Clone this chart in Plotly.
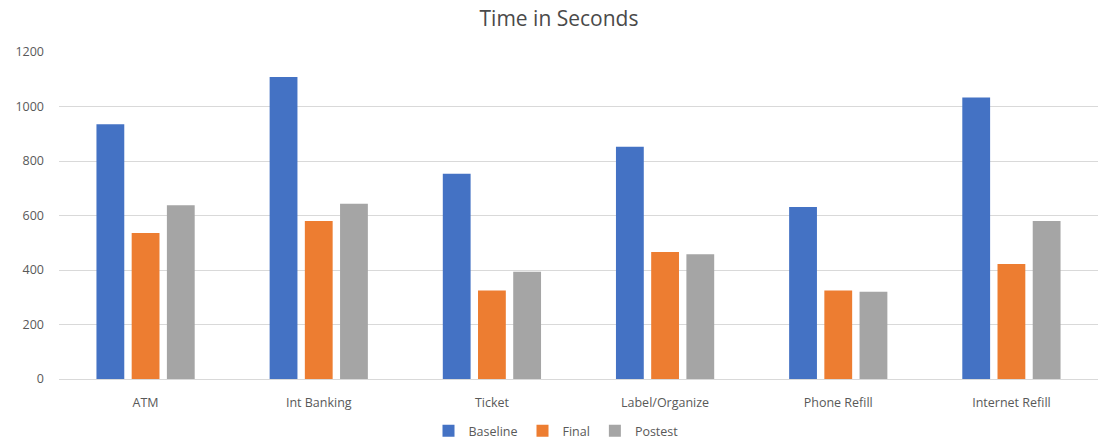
import plotly.graph_objects as go

categories = ["ATM", "Int Banking", "Ticket", "Label/Organize", "Phone Refill", "Internet Refill"]
baseline = [935, 1108, 753, 852, 631, 1033]
final = [536, 580, 325, 466, 325, 422]
postest = [638, 643, 394, 458, 320, 580]

series = [
    ("Baseline", baseline, "#4472C4"),
    ("Final", final, "#ED7D31"),
    ("Postest", postest, "#A5A5A5"),
]

fig = go.Figure()
for name, vals, color in series:
    fig.add_trace(go.Bar(name=name, x=categories, y=vals, marker_color=color,
                         marker_line_width=0))

font_family = "Open Sans, Noto Sans, sans-serif"
fig.update_layout(
    width=1100, height=445,
    margin=dict(l=59, r=2, t=52, b=66, autoexpand=False),
    paper_bgcolor="white", plot_bgcolor="white",
    barmode="group", bargap=0.39, bargroupgap=0.21,
    title=dict(text="Time in Seconds", x=(559 - 59) / 1039, xref="paper", xanchor="center",
               y=1 - 19 / 445, yanchor="middle",
               font=dict(family=font_family, size=21, color="#4a4a4a")),
    font=dict(family=font_family, size=12, color="#595959"),
    xaxis=dict(showgrid=False, showline=True, linecolor="#D9D9D9", linewidth=1,
               ticks="", tickfont=dict(size=12.5, color="#595959"),
               ticklabelstandoff=12, automargin=False),
    yaxis=dict(range=[0, 1200], dtick=200, showgrid=True, gridcolor="#D9D9D9", gridwidth=1,
               zeroline=False, ticks="", tickfont=dict(size=12.5, color="#595959"),
               ticklabelstandoff=14, automargin=False),
    legend=dict(orientation="h", x=(556 - 59) / 1039, xanchor="center",
                yref="container", y=1 - 431 / 445, yanchor="middle",
                font=dict(size=12.5, color="#595959"), itemwidth=30,
                tracegroupgap=0, traceorder="normal"),
)

fig.write_html("out.html")
